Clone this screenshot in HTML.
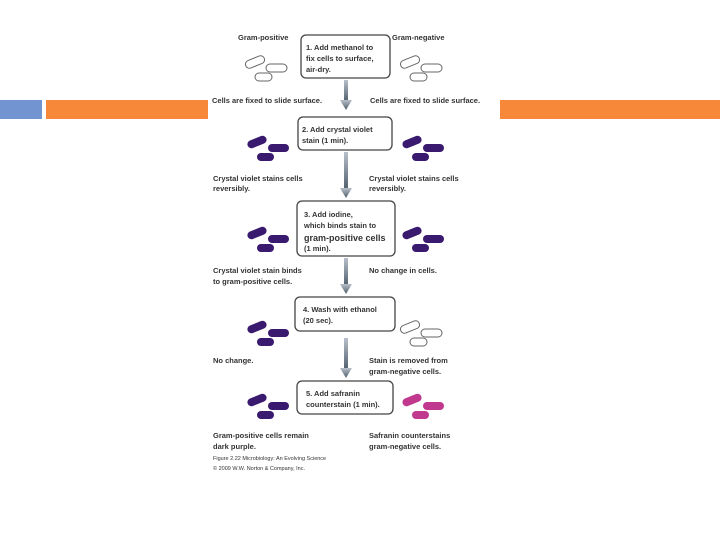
<!DOCTYPE html>
<html><head><style>
html,body{margin:0;padding:0;background:#fff;width:720px;height:540px;overflow:hidden}
svg text{font-family:"Liberation Sans",sans-serif;font-weight:bold;fill:#333}
</style></head><body>
<svg width="720" height="540" viewBox="0 0 720 540" xmlns="http://www.w3.org/2000/svg">
<defs>
<g id="c">
<rect x="-19" y="-12" width="20" height="8" rx="4" transform="rotate(-22 -9 -8)"/>
<rect x="2" y="-6" width="21" height="8" rx="4"/>
<rect x="-9" y="3" width="17" height="8" rx="4"/>
</g>
<linearGradient id="ar" x1="0" x2="0" y1="0" y2="1"><stop offset="0" stop-color="#b8c0ca"/><stop offset="1" stop-color="#4e5d6c"/></linearGradient>
</defs>
<rect x="0" y="100" width="42" height="19" fill="#7295d2"/>
<rect x="46" y="100" width="162" height="19" fill="#f7883a"/>
<rect x="500" y="100" width="220" height="19" fill="#f7883a"/>

<g fill="url(#ar)">
<rect x="344" y="80" width="4" height="22"/><polygon points="340,100 352,100 346,110"/>
<rect x="344" y="152" width="4" height="38"/><polygon points="340,188 352,188 346,198"/>
<rect x="344" y="258" width="4" height="28"/><polygon points="340,284 352,284 346,294"/>
<rect x="344" y="338" width="4" height="32"/><polygon points="340,368 352,368 346,378"/>
</g>

<g fill="#fff" stroke="#444" stroke-width="1.3">
<rect x="301" y="35" width="89" height="43" rx="5"/>
<rect x="298" y="117" width="94" height="33" rx="5"/>
<rect x="297" y="201" width="98" height="55" rx="5"/>
<rect x="295" y="297" width="100" height="34" rx="5"/>
<rect x="297" y="381" width="96" height="33" rx="5"/>
</g>

<g fill="#fff" stroke="#666" stroke-width="1">
<use href="#c" transform="translate(264,70)"/>
<use href="#c" transform="translate(419,70)"/>
<use href="#c" transform="translate(419,335)"/>
</g>
<g fill="#3a1a6e">
<use href="#c" transform="translate(266,150)"/>
<use href="#c" transform="translate(421,150)"/>
<use href="#c" transform="translate(266,241)"/>
<use href="#c" transform="translate(421,241)"/>
<use href="#c" transform="translate(266,335)"/>
<use href="#c" transform="translate(266,408)"/>
</g>
<g fill="#c0398e"><use href="#c" transform="translate(421,408)"/></g>

<g font-size="7.5">
<text x="238" y="40">Gram-positive</text>
<text x="392" y="40">Gram-negative</text>
<text x="306" y="50">1. Add methanol to</text>
<text x="306" y="61">fix cells to surface,</text>
<text x="306" y="72">air-dry.</text>
<text x="212" y="103">Cells are fixed to slide surface.</text>
<text x="370" y="103">Cells are fixed to slide surface.</text>
<text x="302" y="132">2. Add crystal violet</text>
<text x="302" y="143">stain (1 min).</text>
<text x="213" y="181">Crystal violet stains cells</text>
<text x="213" y="191">reversibly.</text>
<text x="369" y="181">Crystal violet stains cells</text>
<text x="369" y="191">reversibly.</text>
<text x="304" y="217">3. Add iodine,</text>
<text x="304" y="228">which binds stain to</text>
<text x="304" y="241" font-size="9">gram-positive cells</text>
<text x="304" y="251">(1 min).</text>
<text x="213" y="273">Crystal violet stain binds</text>
<text x="213" y="284">to gram-positive cells.</text>
<text x="369" y="273">No change in cells.</text>
<text x="303" y="312">4. Wash with ethanol</text>
<text x="303" y="323">(20 sec).</text>
<text x="213" y="363">No change.</text>
<text x="369" y="363">Stain is removed from</text>
<text x="369" y="374">gram-negative cells.</text>
<text x="306" y="396">5. Add safranin</text>
<text x="306" y="407">counterstain (1 min).</text>
<text x="213" y="438">Gram-positive cells remain</text>
<text x="213" y="449">dark purple.</text>
<text x="369" y="438">Safranin counterstains</text>
<text x="369" y="449">gram-negative cells.</text>
</g>
<g font-size="5.5">
<text x="213" y="460" style="font-weight:normal">Figure 2.22 Microbiology: An Evolving Science</text>
<text x="213" y="470" style="font-weight:normal">© 2009 W.W. Norton &amp; Company, Inc.</text>
</g>
</svg>
</body></html>
